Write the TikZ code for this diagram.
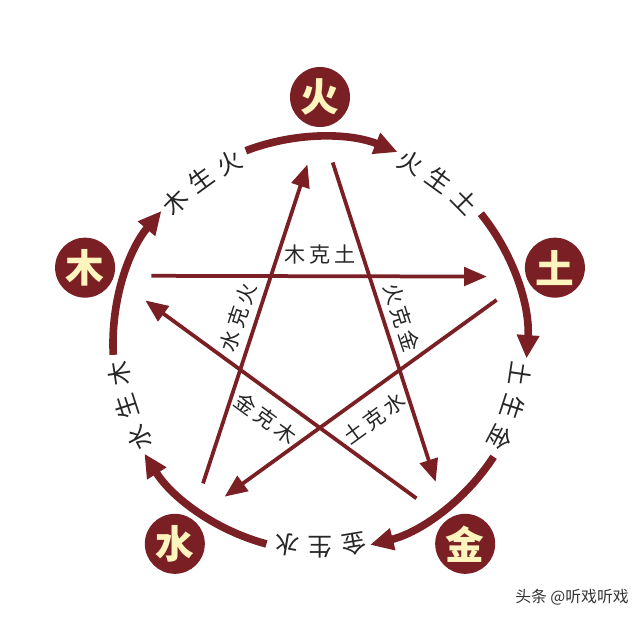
\documentclass[tikz,border=0pt]{standalone}
\usepackage{fontspec}
\usetikzlibrary{arrows.meta}
\newfontfamily\cjk{Noto Sans CJK SC}
\definecolor{wxred}{RGB}{122,31,36}
\definecolor{wxyellow}{RGB}{255,244,190}

\begin{document}
\begin{tikzpicture}
      [
        scale=0.03,
        element/.style={circle, fill=wxred, minimum size=1.8cm, inner sep=0pt,
          text=wxyellow, font=\cjk\bfseries\fontsize{33}{33}\selectfont},
        sheng/.style={wxred, line width=6.5pt, -{Triangle[length=0.7cm,width=0.64cm]}},
        ke/.style={wxred, line width=3.2pt, -{Triangle[length=0.68cm,width=0.55cm]}},
        shengchar/.style={inner sep=0pt, text=black!85, font=\cjk\fontsize{21}{21}\selectfont},
        kelabel/.style={inner sep=0pt, text=black!85, font=\cjk\fontsize{18}{18}\selectfont}
      ]
      \useasboundingbox (-320,-277) rectangle (320,344);
      % elements
      \foreach \name/\ang/\txt in {huo/90/火, tu/18/土, jin/-54/金, shui/-126/水, mu/162/木} {
          \node [element] (\name) at (\ang:247) {\txt};
          \coordinate (\name-out) at ({\ang-4}:182);
          \coordinate (\name-in) at ({\ang+4}:180);
      }
      % sheng cycle
      \foreach \k in {0,...,4} {
          \draw [sheng] ({183-72*\k}:207)
          arc [start angle={183-72*\k}, end angle={140-72*\k}, radius=207];
      }
      \foreach \nm/\ang/\ca/\cb/\cc in {musheng/126/木/生/火, huosheng/54/火/生/土,
          tusheng/-18/土/生/金, jinsheng/-90/金/生/水, shuisheng/-162/水/生/木} {
          \node [shengchar, rotate={\ang+9.5-90}] (\nm-a) at ({\ang+9.5}:203) {\ca};
          \node [shengchar, rotate={\ang-90}] (\nm-b) at (\ang:203) {\cb};
          \node [shengchar, rotate={\ang-9.5-90}] (\nm-c) at ({\ang-9.5}:203) {\cc};
      }
      % ke cycle
      \draw [ke] (mu-out) -- (tu-in);
      \draw [ke] (tu-out) -- (shui-in);
      \draw [ke] (shui-out) -- (huo-in);
      \draw [ke] (huo-out) -- (jin-in);
      \draw [ke] (jin-out) -- (mu-in);
      \foreach \nm/\ang/\r/\rot/\txt in {muke/90/89/0/木\,克\,土, huoke/18/86/-72/火\,克\,金,
          tuke/-54/92/36/土\,克\,水, jinke/234/92/-36/金\,克\,木, shuike/162/86/72/水\,克\,火} {
          \node [kelabel, rotate=\rot] (\nm) at (\ang:\r) {\txt};
      }
      % watermark
      \node [text=black!80, font=\cjk\fontsize{13.5}{13.5}\selectfont] (mark) at (252,-253) {头条 @听戏听戏};
    \end{tikzpicture}
\end{document}
